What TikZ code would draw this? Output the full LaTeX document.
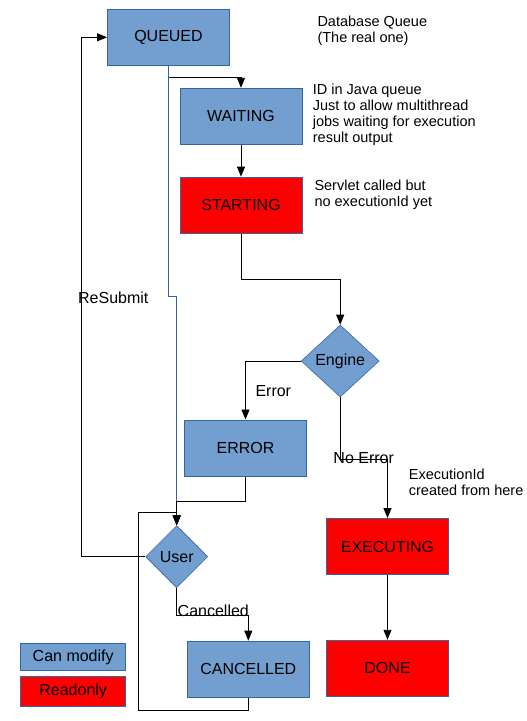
\documentclass[tikz,border=0pt]{standalone}
\usepackage{fontspec}
\setmainfont{Liberation Sans}
\usetikzlibrary{shapes.geometric,arrows.meta}
\definecolor{modfill}{HTML}{729FCF}
\definecolor{modline}{HTML}{3465A4}
\definecolor{rofill}{HTML}{FF0000}

\tikzset{
  state/.style={draw=modline, line width=1pt, fill=modfill, minimum width=122pt,
    minimum height=56pt, inner sep=0pt, font=\fontsize{16}{19}\selectfont},
  rostate/.style={state, fill=rofill},
  choice/.style={diamond, draw=modline, line width=0.6pt, fill=modfill,
    inner sep=0pt, font=\fontsize{16}{19}\selectfont},
  note/.style={anchor=north west, align=left, inner sep=0pt,
    font=\fontsize{14.5}{16}\selectfont},
  lbl/.style={inner sep=0pt, font=\fontsize{16}{19}\selectfont},
  flow/.style={line width=0.9pt, -{Triangle[length=10pt,width=8pt]}},
}

\begin{document}
\begin{tikzpicture}[x=1pt,y=-1pt]
  \useasboundingbox (0,0) rectangle (527,721);

  % states
  \node[state] (queued) at (168.5,37.3) {QUEUED};
  \node[state] (waiting) at (241,116.3) {WAITING};
  \node[rostate] (starting) at (241,205.2) {STARTING};
  \node[choice, minimum width=78pt, minimum height=72pt] (engine) at (340.2,361) {Engine};
  \node[state] (error) at (245.5,448) {ERROR};
  \node[choice, minimum width=62pt, minimum height=62pt] (user) at (176.7,556.7) {User};
  \node[rostate] (executing) at (387.5,546.5) {EXECUTING};
  \node[rostate] (done) at (387.5,668.3) {DONE};
  \node[state] (cancelled) at (248.3,669.2) {CANCELLED};

  % notes
  \node[note] (dbnote) at (317.3,15.5) {Database Queue\\(The real one)};
  \node[note] (javanote) at (312.7,84) {ID in Java queue\\Just to allow multithread\\jobs waiting for execution\\result output};
  \node[note] (servnote) at (314.3,180) {Servlet called but\\no executionId yet};
  \node[note] (execnote) at (408.7,469) {ExecutionId\\created from here};

  % legend
  \node[state, minimum width=105pt, minimum height=27.5pt] (canmod) at (73.2,657) {Can modify};
  \node[rostate, minimum width=105pt, minimum height=30pt] (readonly) at (73.2,691.3) {Readonly};

  % connectors
  \draw[flow] (queued.south) -- ++(0,12) -| (waiting.north);
  \draw[flow, draw=modline] (queued.south) -- ++(0,230.4) -| (user.north);
  \draw[flow] (waiting) -- (starting);
  \draw[flow] (starting.south) -- ++(0,46) -| (engine.north);
  \draw[flow] (engine.west) -| (error.north);
  \draw[flow] (engine.south) -- ++(0,62) -| (executing.north);
  \draw[flow] (executing) -- (done);
  \draw[flow] (error.south) -- ++(0,25) -| (user.north);
  \draw[flow] (user.west) -- ++(-64.4,0) |- (queued.west);
  \draw[flow] (user.south) -- ++(0,27) -| (cancelled.north);
  \coordinate (back) at (138.3,512.3);
  \draw[flow] (cancelled.south) -- ++(0,13) -| (back) -| (user.north);

  % labels
  \node[lbl] (errlbl) at (273.3,390.7) {Error};
  \node[lbl] (noerrlbl) at (363.7,458.3) {No Error};
  \node[lbl] (resublbl) at (113.3,297.3) {ReSubmit};
  \node[lbl] (canclbl) at (213.3,611) {Cancelled};
\end{tikzpicture}
\end{document}
